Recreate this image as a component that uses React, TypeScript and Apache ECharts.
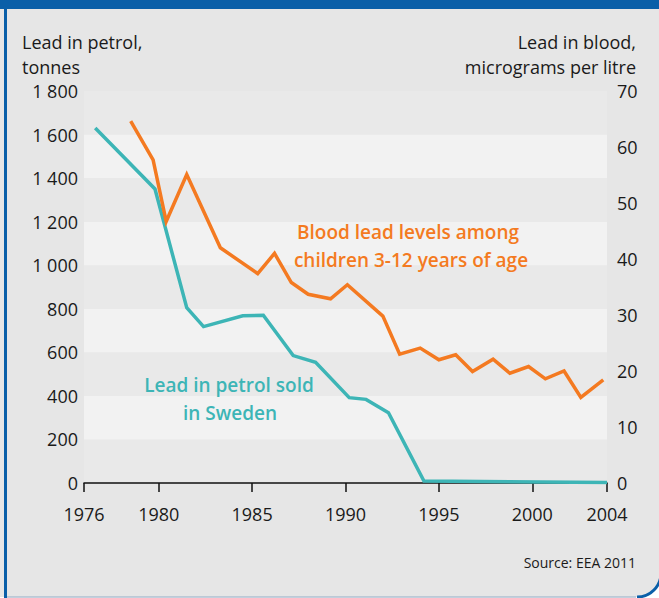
import React, { useEffect, useRef } from 'react';
import * as echarts from 'echarts';

// Lead in petrol sold in Sweden (tonnes) — left axis
const petrolYears = [1976.6, 1979.8, 1981.5, 1982.4, 1984.5, 1985.6, 1987.2, 1988.4, 1990.2, 1991.1, 1992.3, 1994.2, 2004];
const petrolTonnes = [1630, 1350, 805, 718, 768, 770, 585, 554, 392, 384, 323, 9, 2];

// Blood lead levels among children 3-12 years (micrograms per litre) — right axis
const bloodYears = [1978.5, 1979.7, 1980.4, 1981.5, 1983.3, 1985.3, 1986.2, 1987.1, 1988.0, 1989.2, 1990.1, 1992.0, 1992.9, 1994.0, 1995.0, 1995.9, 1996.8, 1997.9, 1998.8, 1999.8, 2000.7, 2001.7, 2002.6, 2003.8];
const bloodLevels = [64.6, 57.7, 46.7, 55.1, 42.0, 37.4, 41.0, 35.8, 33.7, 32.9, 35.4, 29.8, 23.0, 24.1, 22.0, 22.9, 19.9, 22.1, 19.6, 20.8, 18.6, 20.0, 15.3, 18.4];

const xLabelYears = [1976, 1980, 1985, 1990, 1995, 2000, 2004];

const ORANGE = '#f47a21';
const TEAL = '#3db5b6';
const BLUE = '#0a5fa8';
const FONT = '"Open Sans", sans-serif';

export default function App() {
  const ref = useRef<HTMLDivElement>(null);

  useEffect(() => {
    document.body.style.margin = '0';
    const chart = echarts.init(ref.current!, null, { renderer: 'svg' });
    const petrolData = petrolYears.map((y, i) => [y, petrolTonnes[i]]);
    const bloodData = bloodYears.map((y, i) => [y, bloodLevels[i]]);

    chart.setOption({
      animation: false,
      backgroundColor: '#ffffff',
      textStyle: { fontFamily: FONT },
      grid: { left: 84, right: 52, top: 91, bottom: 115 },
      xAxis: {
        type: 'value',
        min: 1976,
        max: 2004,
        axisLine: { show: true, lineStyle: { color: '#111', width: 1.5 } },
        axisTick: { show: true, customValues: xLabelYears, length: 9, lineStyle: { color: '#111', width: 1.5 } },
        axisLabel: { customValues: xLabelYears, color: '#1a1a1a', fontSize: 18, fontFamily: FONT, margin: 22, formatter: (v: number) => String(v) },
        splitLine: { show: false },
      },
      yAxis: [
        {
          type: 'value',
          min: 0,
          max: 1800,
          interval: 200,
          axisLine: { show: false },
          axisTick: { show: false },
          axisLabel: {
            color: '#1a1a1a', fontSize: 18, fontFamily: FONT, margin: 6,
            formatter: (v: number) => String(v).replace(/\B(?=(\d{3})+(?!\d))/g, ' '),
          },
          splitLine: { show: false },
          splitArea: { show: true, areaStyle: { color: ['#e9e9e9', '#f2f2f2'] } },
        },
        {
          type: 'value',
          min: 0,
          max: 70,
          interval: 10,
          position: 'right',
          axisLine: { show: false },
          axisTick: { show: false },
          axisLabel: { color: '#1a1a1a', fontSize: 18, fontFamily: FONT, margin: 10 },
          splitLine: { show: false },
          splitArea: { show: false },
        },
      ],
      series: [
        {
          type: 'line',
          yAxisIndex: 0,
          data: petrolData,
          showSymbol: false,
          symbol: 'none',
          lineStyle: { color: TEAL, width: 3.5, join: 'miter' },
          z: 3,
        },
        {
          type: 'line',
          yAxisIndex: 1,
          data: bloodData,
          showSymbol: false,
          symbol: 'none',
          lineStyle: { color: ORANGE, width: 3.5, join: 'miter' },
          z: 4,
        },
      ],
      graphic: [
        {
          type: 'rect', z: -10, silent: true,
          shape: { x: 0, y: -40, width: 662, height: 637, r: [0, 0, 24, 0] },
          style: { fill: '#e6e6e6' },
        },
        {
          type: 'line', z: -9, silent: true,
          shape: { x1: 6, y1: 597, x2: 636, y2: 597 },
          style: { stroke: '#aebfd0', lineWidth: 1.5 },
        },
        {
          type: 'arc', z: -9, silent: true,
          shape: { cx: 637, cy: 573, r: 24, startAngle: 0, endAngle: Math.PI / 2 },
          style: { stroke: BLUE, lineWidth: 3, fill: 'none' },
        },
        {
          type: 'rect', z: -8, silent: true,
          shape: { x: 0, y: 0, width: 659, height: 9 },
          style: { fill: BLUE },
        },
        {
          type: 'rect', z: -8, silent: true,
          shape: { x: 4, y: 0, width: 3, height: 598 },
          style: { fill: BLUE },
        },
        { type: 'text', x: 22, y: 42, style: { text: 'Lead in petrol,', font: `18px ${FONT}`, fill: '#1a1a1a', textVerticalAlign: 'middle' } },
        { type: 'text', x: 22, y: 67, style: { text: 'tonnes', font: `18px ${FONT}`, fill: '#1a1a1a', textVerticalAlign: 'middle' } },
        { type: 'text', x: 636, y: 42, style: { text: 'Lead in blood,', font: `18px ${FONT}`, fill: '#1a1a1a', textAlign: 'right', textVerticalAlign: 'middle' } },
        { type: 'text', x: 636, y: 67, style: { text: 'micrograms per litre', font: `18px ${FONT}`, fill: '#1a1a1a', textAlign: 'right', textVerticalAlign: 'middle' } },
        { type: 'text', x: 408, y: 232, z: 10, style: { text: 'Blood lead levels among', font: `600 19px ${FONT}`, fill: ORANGE, textAlign: 'center', textVerticalAlign: 'middle' } },
        { type: 'text', x: 411, y: 260, z: 10, style: { text: 'children 3-12 years of age', font: `600 19px ${FONT}`, fill: ORANGE, textAlign: 'center', textVerticalAlign: 'middle' } },
        { type: 'text', x: 229, y: 385, z: 10, style: { text: 'Lead in petrol sold', font: `600 19px ${FONT}`, fill: TEAL, textAlign: 'center', textVerticalAlign: 'middle' } },
        { type: 'text', x: 230, y: 413, z: 10, style: { text: 'in Sweden', font: `600 19px ${FONT}`, fill: TEAL, textAlign: 'center', textVerticalAlign: 'middle' } },
        { type: 'text', x: 636, y: 562, style: { text: 'Source: EEA 2011', font: `14px ${FONT}`, fill: '#1a1a1a', textAlign: 'right', textVerticalAlign: 'middle' } },
      ],
    });
    return () => chart.dispose();
  }, []);

  return <div ref={ref} style={{ position: 'fixed', left: 0, top: 0, width: 659, height: 598 }} />;
}
